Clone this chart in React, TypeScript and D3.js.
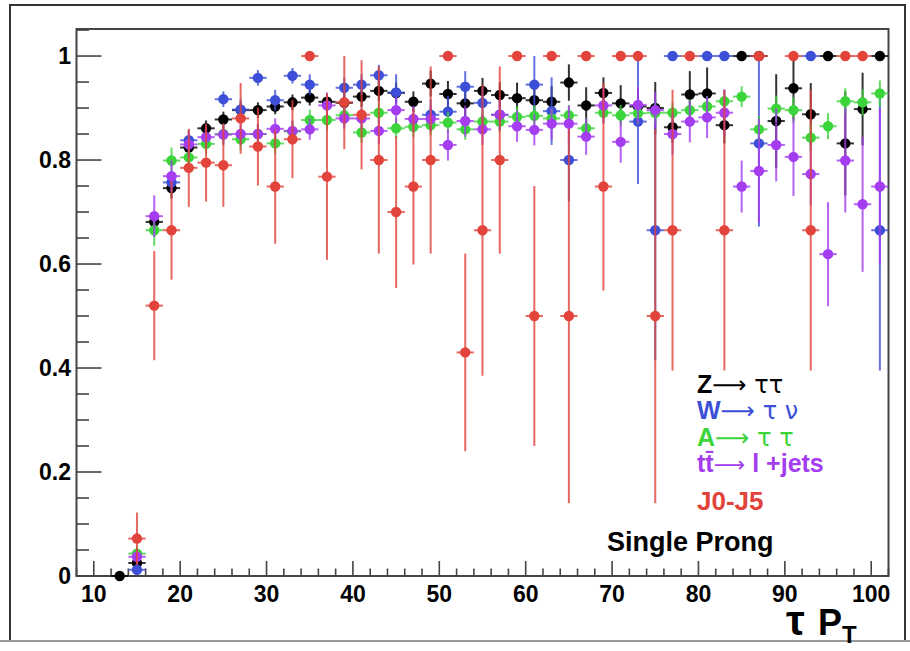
import React, { useEffect, useRef } from 'react';
import * as d3 from 'd3';

// bin centres (tau pT)
const bins = [13, 15, 17, 19, 21, 23, 25, 27, 29, 31, 33, 35, 37, 39, 41, 43, 45, 47, 49, 51, 53, 55, 57,
  59, 61, 63, 65, 67, 69, 71, 73, 75, 77, 79, 81, 83, 85, 87, 89, 91, 93, 95, 97, 99, 101];

const zttVal = [0, 0.025, 0.681, 0.746, 0.824, 0.861, 0.878, 0.896, 0.896, 0.903, 0.911, 0.92, 0.912, 0.91, 0.922, 0.933, 0.929, 0.912, 0.947, 0.927, 0.909, 0.933, 0.925,
  0.919, 0.915, 0.912, 0.949, 0.905, 0.929, 0.909, 0.903, 0.9, 0.863, 0.926, 0.928, 0.867, 1.0, 1.0, 0.875, 0.938, 0.888, 1.0, 0.832, 0.898, 1.0];
const zttErr = [0, 0.015, 0.02, 0.02, 0.015, 0.015, 0.015, 0.015, 0.015, 0.015, 0.015, 0.015, 0.015, 0.02, 0.02, 0.02, 0.02, 0.02, 0.025, 0.025, 0.025, 0.025, 0.025,
  0.03, 0.03, 0.03, 0.035, 0.035, 0.03, 0.035, 0.035, 0.05, 0.03, 0.045, 0.05, 0.035, 0, 0, 0.09, 0.06, 0.06, 0, 0.1, 0.07, 0];

const wtnVal = [null, 0.012, null, 0.757, 0.838, null, 0.917, 0.897, 0.958, 0.915, 0.962, 0.945, null, 0.939, 0.945, 0.963, 0.93, null, 0.887, 0.893, 0.941, 0.91, 0.887,
  null, 0.945, 0.894, 0.8, null, null, null, 0.874, 0.665, 1.0, null, 1.0, 1.0, null, 0.832, null, null, 1.0, null, null, null, 0.665];
const wtnErr = [0, 0.01, 0, 0.02, 0.02, 0, 0.015, 0.02, 0.015, 0.02, 0.015, 0.02, 0, 0.02, 0.02, 0.02, 0.035, 0, 0.03, 0.03, 0.03, 0.03, 0.03,
  0, 0.055, 0.065, 0.08, 0, 0, 0, 0.12, 0.25, 0, 0, 0, 0, 0, 0.16, 0, 0, 0, 0, 0, 0, 0.27];

const attVal = [null, 0.043, 0.665, 0.799, 0.805, 0.831, 0.85, 0.84, 0.85, 0.832, 0.855, 0.877, 0.877, 0.886, 0.853, 0.891, 0.861, 0.864, 0.867, 0.872, 0.859, 0.874, 0.874,
  0.883, 0.885, 0.88, 0.886, 0.861, 0.891, 0.886, 0.89, 0.891, 0.891, 0.896, 0.903, 0.913, 0.922, 0.859, 0.899, 0.896, 0.843, 0.865, 0.913, 0.911, 0.928];
const attErr = [0, 0.015, 0.03, 0.025, 0.02, 0.02, 0.02, 0.02, 0.02, 0.02, 0.02, 0.02, 0.02, 0.02, 0.02, 0.02, 0.02, 0.02, 0.02, 0.02, 0.02, 0.02, 0.02,
  0.02, 0.02, 0.02, 0.02, 0.02, 0.02, 0.02, 0.02, 0.02, 0.02, 0.02, 0.02, 0.02, 0.02, 0.025, 0.025, 0.025, 0.025, 0.025, 0.025, 0.025, 0.025];

const ttbarVal = [null, 0.037, 0.692, 0.769, 0.83, 0.844, 0.849, 0.85, 0.85, 0.86, 0.856, 0.859, 0.905, 0.88, 0.88, 0.856, 0.896, 0.879, 0.879, 0.829, 0.875, 0.859, 0.887,
  0.865, 0.858, 0.87, 0.87, 0.845, 0.905, 0.835, 0.906, 0.896, 0.85, 0.874, 0.882, 0.891, 0.749, 0.779, 0.829, 0.806, 0.773, 0.619, 0.799, 0.715, 0.749];
const ttbarErr = [0, 0.015, 0.04, 0.03, 0.025, 0.02, 0.02, 0.02, 0.02, 0.02, 0.02, 0.02, 0.025, 0.02, 0.02, 0.025, 0.025, 0.025, 0.025, 0.03, 0.03, 0.03, 0.03,
  0.03, 0.03, 0.03, 0.035, 0.035, 0.035, 0.04, 0.035, 0.035, 0.04, 0.04, 0.04, 0.045, 0.05, 0.1, 0.07, 0.075, 0.06, 0.1, 0.1, 0.13, 0.15];

const jetVal = [null, 0.072, 0.52, 0.665, 0.785, 0.795, 0.79, 0.88, 0.826, 0.749, 0.84, 1.0, 0.768, 0.911, 0.887, 0.8, 0.7, 0.749, 0.8, 1.0, 0.43, 0.665, 0.8,
  1.0, 0.5, 1.0, 0.5, 1.0, 0.749, 1.0, 1.0, 0.5, 0.665, 1.0, null, 0.665, null, 1.0, null, 1.0, 0.665, null, 1.0, 1.0, null];
const jetErr = [0, 0.05, 0.105, 0.095, 0.075, 0.075, 0.08, 0.068, 0.075, 0.11, 0.075, 0, 0.16, 0.09, 0.105, 0.18, 0.146, 0.15, 0.18, 0, 0.19, 0.28, 0.18,
  0, 0.25, 0, 0.36, 0, 0.2, 0, 0, 0.36, 0.27, 0, 0, 0.27, 0, 0, 0, 0, 0.27, 0, 0, 0, 0];

const yTickLabels = [0, 0.2, 0.4, 0.6, 0.8, 1];
const xTickLabels = [10, 20, 30, 40, 50, 60, 70, 80, 90, 100];

// drawing order: first is at the bottom
const series = [
  { name: 'ztt', color: '#000000', vals: zttVal, errs: zttErr },
  { name: 'wtn', color: '#3c4fd6', vals: wtnVal, errs: wtnErr },
  { name: 'att', color: '#3bd43b', vals: attVal, errs: attErr },
  { name: 'ttbar', color: '#a43cf0', vals: ttbarVal, errs: ttbarErr },
  { name: 'jet', color: '#e2433a', vals: jetVal, errs: jetErr },
];

const FONT = '"Liberation Sans", Arial, Helvetica, sans-serif';
const SYM = '"DejaVu Sans", sans-serif';

const App = () => {
  const svgRef = useRef(null);

  useEffect(() => {
    const svg = d3.select(svgRef.current);
    svg.selectAll('*').remove();

    const left = 76.5, right = 888.5, top = 29, bottom = 576;
    const x = d3.scaleLinear().domain([8, 102]).range([left, right]);
    const y = d3.scaleLinear().domain([0, 1.052]).range([bottom, top]);

    // outer canvas border
    svg.append('rect').attr('x', 10).attr('y', 5).attr('width', 895).attr('height', 636)
      .attr('fill', '#fff').attr('stroke', '#333').attr('stroke-width', 2);
    svg.append('line').attr('x1', 0).attr('x2', 910).attr('y1', 641).attr('y2', 641)
      .attr('stroke', '#999').attr('stroke-width', 2);

    // frame
    svg.append('rect').attr('x', left).attr('y', top)
      .attr('width', right - left).attr('height', bottom - top)
      .attr('fill', 'none').attr('stroke', '#444').attr('stroke-width', 2);

    // y ticks
    const yMinor = d3.range(0, 1.0501, 0.05);
    svg.append('g').selectAll('line').data(yMinor).enter().append('line')
      .attr('x1', left).attr('y1', d => y(d)).attr('y2', d => y(d))
      .attr('x2', d => (Math.abs(d * 5 - Math.round(d * 5)) < 1e-6 ? left + 25 : left + 12.5))
      .attr('stroke', '#444').attr('stroke-width', 1.6);
    svg.append('g').selectAll('text').data(yTickLabels).enter().append('text')
      .attr('x', 71).attr('y', d => y(d)).attr('dy', '0.36em')
      .attr('text-anchor', 'end').attr('font-family', FONT).attr('font-weight', 'bold')
      .attr('font-size', 23).text(d => (d === 0 || d === 1 ? String(d) : d.toFixed(1)));

    // x ticks
    const xMinor = d3.range(8, 102.01, 2);
    svg.append('g').selectAll('line').data(xMinor).enter().append('line')
      .attr('x1', d => x(d)).attr('x2', d => x(d)).attr('y1', bottom)
      .attr('y2', d => (d % 10 === 0 ? bottom - 15 : bottom - 7.5))
      .attr('stroke', '#444').attr('stroke-width', 1.6);
    svg.append('g').selectAll('text').data(xTickLabels).enter().append('text')
      .attr('x', d => x(d)).attr('y', 602)
      .attr('text-anchor', 'middle').attr('font-family', FONT).attr('font-weight', 'bold')
      .attr('font-size', 23).text(d => d);

    // axis title
    const t = svg.append('text').attr('x', 786).attr('y', 635)
      .attr('font-family', FONT).attr('font-weight', 'bold').attr('font-size', 36);
    t.append('tspan').attr('font-size', 42).text('τ');
    t.append('tspan').attr('x', 818).text('P');
    t.append('tspan').attr('font-size', 24).attr('dy', 8).text('T');

    // points
    series.forEach(s => {
      const pts = bins.map((b, i) => ({ b, v: s.vals[i], e: s.errs[i] })).filter(p => p.v !== null);
      const g = svg.append('g').attr('class', s.name);
      g.selectAll('line.ey').data(pts.filter(p => p.e > 0)).enter().append('line')
        .attr('x1', p => x(p.b)).attr('x2', p => x(p.b))
        .attr('y1', p => y(Math.max(0, p.v - p.e))).attr('y2', p => y(Math.min(1, p.v + p.e)))
        .attr('stroke', s.color).attr('stroke-width', 2).attr('opacity', 0.8);
      g.selectAll('line.ex').data(pts).enter().append('line')
        .attr('x1', p => x(p.b - 1)).attr('x2', p => x(p.b + 1))
        .attr('y1', p => y(p.v)).attr('y2', p => y(p.v))
        .attr('stroke', s.color).attr('stroke-width', 2).attr('opacity', 0.8);
      g.selectAll('circle').data(pts).enter().append('circle')
        .attr('cx', p => x(p.b)).attr('cy', p => y(p.v)).attr('r', 5.2)
        .attr('fill', s.color);
    });

    // legend
    const legend = [
      { bold: 'Z', rest: '⟶ ττ', color: '#000000', yPos: 393 },
      { bold: 'W', rest: '⟶ τ ν', color: '#3c4fd6', yPos: 419 },
      { bold: 'A', rest: '⟶ τ τ', color: '#3bd43b', yPos: 446 },
    ];
    legend.forEach(l => {
      const tx = svg.append('text').attr('x', 697).attr('y', l.yPos)
        .attr('font-size', 25).attr('fill', l.color);
      tx.append('tspan').attr('font-family', FONT).attr('font-weight', 'bold').text(l.bold);
      tx.append('tspan').attr('font-family', SYM).attr('font-size', 24).attr('font-weight', 'normal').text(l.rest);
    });
    const tt = svg.append('text').attr('x', 697).attr('y', 472)
      .attr('font-size', 25).attr('fill', '#a43cf0');
    tt.append('tspan').attr('font-family', FONT).attr('font-weight', 'bold').text('tt\u0304');
    tt.append('tspan').attr('font-family', SYM).attr('font-size', 22).attr('font-weight', 'normal').text('⟶ ');
    tt.append('tspan').attr('font-family', FONT).attr('font-weight', 'bold').text('l +jets');
    svg.append('text').attr('x', 697).attr('y', 510)
      .attr('font-family', FONT).attr('font-size', 26).attr('font-weight', 'bold')
      .attr('fill', '#e2433a').text('J0-J5');
    svg.append('text').attr('x', 607).attr('y', 551)
      .attr('font-family', FONT).attr('font-size', 27).attr('font-weight', 'bold')
      .attr('fill', '#000').text('Single Prong');
  }, []);

  return (
    <svg
      ref={svgRef}
      width={910}
      height={651}
      style={{ position: 'absolute', left: 0, top: 0, background: '#fff' }}
    ></svg>
  );
};

export default App;
